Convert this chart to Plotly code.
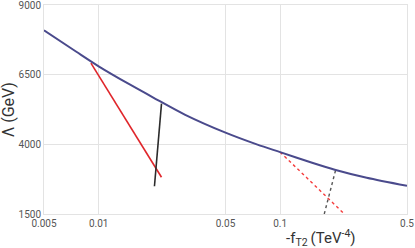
import plotly.graph_objects as go

# Main curve
curve_x = [0.005, 0.0075, 0.01, 0.015, 0.02, 0.03, 0.05, 0.075, 0.1, 0.15, 0.2, 0.3, 0.5]
curve_y = [8090, 7330, 6800, 6130, 5680, 5060, 4420, 3990, 3720, 3340, 3090, 2800, 2510]

# Solid segments
red_x = [0.00907, 0.0222]
red_y = [6915, 2818]
black_x = [0.0203, 0.0222]
black_y = [2495, 5460]

# Dotted segments
red_dot_x = [0.1, 0.2259]
red_dot_y = [3720, 1500]
black_dot_x = [0.175, 0.2022]
black_dot_y = [1500, 3080]

x_ticks = [0.005, 0.01, 0.05, 0.1, 0.5]
x_ticktext = ["0.005", "0.01", "0.05", "0.1", "0.5"]
y_ticks = [1500, 4000, 6500, 9000]
x_title = "-f<sub>T2</sub>\u2009(TeV<sup>-4</sup>)"
y_title = "Λ (GeV)"

fig = go.Figure()
fig.add_trace(go.Scatter(x=red_x, y=red_y, mode="lines",
                         line=dict(color="#e0262b", width=1.6), showlegend=False))
fig.add_trace(go.Scatter(x=black_x, y=black_y, mode="lines",
                         line=dict(color="#2b2b2b", width=1.6), showlegend=False))
fig.add_trace(go.Scatter(x=red_dot_x, y=red_dot_y, mode="lines",
                         line=dict(color="#f53c3c", width=1.4, dash="dot"), showlegend=False))
fig.add_trace(go.Scatter(x=black_dot_x, y=black_dot_y, mode="lines",
                         line=dict(color="#555555", width=1.4, dash="dot"), showlegend=False))
fig.add_trace(go.Scatter(x=curve_x, y=curve_y, mode="lines",
                         line=dict(color="#4a4a8c", width=2, shape="spline", smoothing=0.8),
                         showlegend=False))

fig.update_layout(
    width=415, height=248,
    margin=dict(l=44, r=8, t=5, b=34, autoexpand=False),
    paper_bgcolor="white", plot_bgcolor="white",
    font=dict(family="Roboto", color="#555555", size=10),
    annotations=[
        dict(text=x_title, xref="paper", yref="paper", x=0.764, y=-0.115,
             xanchor="center", yanchor="middle", showarrow=False,
             font=dict(size=15, color="#333333")),
        dict(text=y_title, xref="paper", yref="paper", x=-0.097, y=0.5,
             xanchor="center", yanchor="middle", showarrow=False, textangle=-90,
             font=dict(size=16, color="#333333")),
    ],
)
fig.update_xaxes(
    type="log", range=[-2.30103, -0.30103], automargin=False,
    tickvals=x_ticks, ticktext=x_ticktext, ticklabeloverflow="allow",
    showgrid=True, gridcolor="#e3e3e3", gridwidth=1,
    showline=True, mirror=True, linecolor="#e3e3e3", linewidth=1,
    zeroline=False, ticks="", tickfont=dict(size=10, color="#555555"),
)
fig.update_yaxes(
    range=[1500, 9000], tickvals=y_ticks, automargin=False, ticklabeloverflow="allow",
    showgrid=True, gridcolor="#e3e3e3", gridwidth=1,
    showline=True, mirror=True, linecolor="#e3e3e3", linewidth=1,
    zeroline=False, ticks="", tickfont=dict(size=10, color="#555555"),
)

fig.write_html("out.html", config={"displayModeBar": False},
               post_script="document.body.style.margin='0';document.body.style.overflow='hidden';")
